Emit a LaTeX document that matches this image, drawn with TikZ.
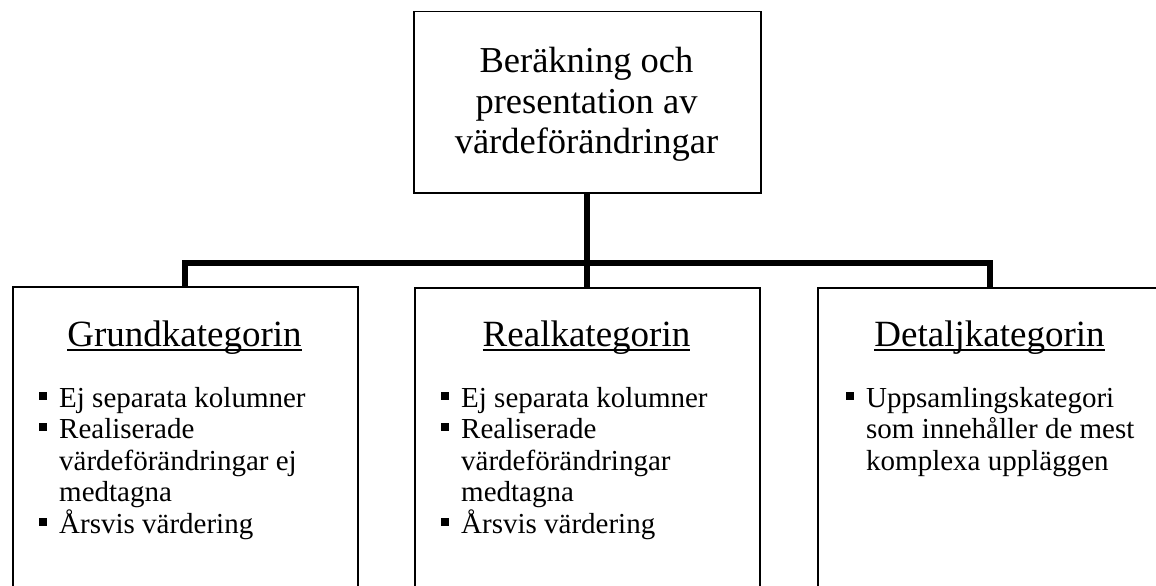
\documentclass[tikz,border=0pt]{standalone}
\usepackage{fontspec}
\setmainfont{Liberation Serif}
\newcommand\myitem[1]{\par\hangindent=20pt\hangafter=1\noindent\makebox[20pt][l]{\rule[7.5pt]{8pt}{8pt}}#1}
\newcommand\myul[1]{\setbox0\hbox{#1}\rlap{\rule[-5pt]{\wd0}{1.8pt}}\box0}
\newcommand\mylist[1]{\parbox[t]{320pt}{\fontsize{29}{31.5}\selectfont\parskip=0pt\parindent=0pt #1}}
\tikzset{
  box/.style={draw=black, line width=1.5pt, fill=white, anchor=north west, inner sep=0pt},
  conn/.style={draw=black, line width=6pt, line join=miter},
  headtxt/.style={anchor=base, inner sep=0pt, font=\fontsize{37}{40}\selectfont},
  listtxt/.style={anchor=base west, inner sep=0pt},
}
\begin{document}
\begin{tikzpicture}[x=1pt,y=1pt]
\useasboundingbox (0,0) rectangle (1156,-586);
\clip (0,0) rectangle (1156,-586);
\fill[white] (0,0) rectangle (1156,-586);
% boxes
\node[box, minimum width=347pt, minimum height=181pt] (top) at (413,-11) {};
\node[box, minimum width=345pt, minimum height=340pt] (grund) at (12,-286) {};
\node[box, minimum width=345pt, minimum height=340pt] (real) at (414,-287) {};
\node[box, minimum width=345pt, minimum height=340pt] (detalj) at (817,-287) {};
% connectors
\coordinate (j) at (586.5,-262.5);
\draw[conn] (grund.north) |- (j) -| (detalj.north);
\draw[conn] (top.south) -- (real.north);
% top text
\node[anchor=base, inner sep=0pt] (toptxt) at (586.5,-73) {\parbox[t]{340pt}{\centering\fontsize{36.5}{40.5}\selectfont Beräkning och\\presentation av\\värdeförändringar}};
% headings
\node[headtxt] (h1) at (184.5,-346) {\myul{Grundkategorin}};
\node[headtxt] (h2) at (586.5,-346) {\myul{Realkategorin}};
\node[headtxt] (h3) at (989.5,-346) {\myul{Detaljkategorin}};
% lists
\node[listtxt] (l1) at (39,-407) {\mylist{\myitem{Ej separata kolumner}\myitem{Realiserade\newline värdeförändringar ej\newline medtagna}\myitem{Årsvis värdering}}};
\node[listtxt] (l2) at (441,-407) {\mylist{\myitem{Ej separata kolumner}\myitem{Realiserade\newline värdeförändringar\newline medtagna}\myitem{Årsvis värdering}}};
\node[listtxt] (l3) at (846,-407) {\mylist{\myitem{Uppsamlingskategori\newline som innehåller de mest\newline komplexa uppläggen}}};
\end{tikzpicture}
\end{document}
